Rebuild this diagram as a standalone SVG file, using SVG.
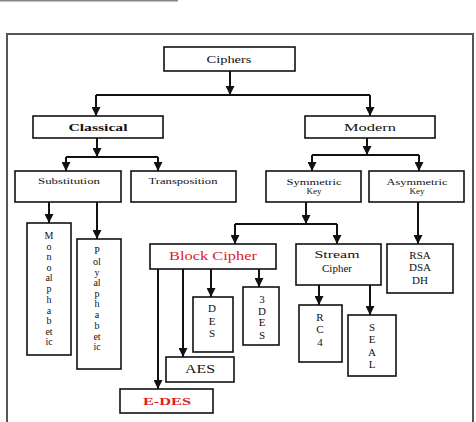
<svg xmlns="http://www.w3.org/2000/svg" width="476" height="422" viewBox="0 0 476 422" font-family="'Liberation Serif', 'Times New Roman', serif">
<style>
.b{fill:#fff;stroke:#111;stroke-width:1.6}
.c{fill:none;stroke:#111;stroke-width:2}
text{font-family:'Liberation Serif','Times New Roman',serif;fill:#111;text-anchor:middle}
.s9{font-size:9px}
.s11{font-size:11px}
.s12{font-size:12px}
.v{font-size:10px}
.red{fill:#e02020}
.bold{font-weight:bold}
</style>
<defs>
<marker id="ah" viewBox="0 0 10 10" refX="10" refY="5" markerWidth="9" markerHeight="9" orient="auto" markerUnits="userSpaceOnUse">
<path d="M0,0 L10,5 L0,10 z" fill="#111"/>
</marker>
</defs>
<rect x="0" y="0" width="178" height="1.5" fill="#888"/>
<rect x="7" y="34" width="466" height="400" fill="#fff" stroke="#555" stroke-width="2"/>
<g id="connectors">
<path class="c" d="M230,71 V95" marker-end="url(#ah)"/>
<path class="c" d="M96,95 H370"/>
<path class="c" d="M96,95 V116" marker-end="url(#ah)"/>
<path class="c" d="M370,95 V116" marker-end="url(#ah)"/>
<path class="c" d="M97,138 V157" marker-end="url(#ah)"/>
<path class="c" d="M66,157 H158"/>
<path class="c" d="M66,157 V171" marker-end="url(#ah)"/>
<path class="c" d="M158,157 V171" marker-end="url(#ah)"/>
<path class="c" d="M367,138 V155" marker-end="url(#ah)"/>
<path class="c" d="M312,155 H419"/>
<path class="c" d="M312,155 V171" marker-end="url(#ah)"/>
<path class="c" d="M419,155 V171" marker-end="url(#ah)"/>
<path class="c" d="M49,202 V223" marker-end="url(#ah)"/>
<path class="c" d="M97,202 V239" marker-end="url(#ah)"/>
<path class="c" d="M306,202 V224" marker-end="url(#ah)"/>
<path class="c" d="M235,224 H337"/>
<path class="c" d="M235,224 V244" marker-end="url(#ah)"/>
<path class="c" d="M337,224 V244" marker-end="url(#ah)"/>
<path class="c" d="M418,202 V244" marker-end="url(#ah)"/>
<path class="c" d="M158,269 V389" marker-end="url(#ah)"/>
<path class="c" d="M183,269 V357" marker-end="url(#ah)"/>
<path class="c" d="M211,269 V297" marker-end="url(#ah)"/>
<path class="c" d="M259,269 V287" marker-end="url(#ah)"/>
<path class="c" d="M319,285 V305" marker-end="url(#ah)"/>
<path class="c" d="M370,285 V315" marker-end="url(#ah)"/>
</g>
<g id="ciphers"><rect class="b" x="164" y="47" width="131" height="24"/><text class="s11" x="229" y="63" textLength="45" lengthAdjust="spacingAndGlyphs">Ciphers</text></g>
<g id="classical"><rect class="b" x="33" y="116" width="130" height="22"/><text class="s11 bold" x="98" y="131" textLength="59" lengthAdjust="spacingAndGlyphs">Classical</text></g>
<g id="modern"><rect class="b" x="305" y="116" width="130" height="22"/><text class="s11" x="370" y="131" textLength="52" lengthAdjust="spacingAndGlyphs">Modern</text></g>
<g id="substitution"><rect class="b" x="15" y="171" width="106" height="31"/><text class="s9" x="69" y="184" textLength="62" lengthAdjust="spacingAndGlyphs">Substitution</text></g>
<g id="transposition"><rect class="b" x="131" y="171" width="105" height="31"/><text class="s9" x="183" y="184" textLength="69" lengthAdjust="spacingAndGlyphs">Transposition</text></g>
<g id="symmetric"><rect class="b" x="266" y="171" width="95" height="31"/><text class="s9" x="314" y="185" textLength="55" lengthAdjust="spacingAndGlyphs">Symmetric</text><text class="s9" x="314" y="194">Key</text></g>
<g id="asymmetric"><rect class="b" x="369" y="171" width="95" height="31"/><text class="s9" x="417" y="185" textLength="61" lengthAdjust="spacingAndGlyphs">Asymmetric</text><text class="s9" x="417" y="194">Key</text></g>
<g id="mono"><rect class="b" x="27" y="223" width="44" height="132"/>
<text class="v"><tspan x="49" y="239">M</tspan><tspan x="49" y="250">o</tspan><tspan x="49" y="260">n</tspan><tspan x="49" y="271">o</tspan><tspan x="49" y="281">al</tspan><tspan x="49" y="292">p</tspan><tspan x="49" y="303">h</tspan><tspan x="49" y="314">a</tspan><tspan x="49" y="324">b</tspan><tspan x="49" y="335">et</tspan><tspan x="49" y="345">ic</tspan></text></g>
<g id="poly"><rect class="b" x="77" y="239" width="44" height="130"/>
<text class="v"><tspan x="97" y="254">P</tspan><tspan x="97" y="265">ol</tspan><tspan x="97" y="276">y</tspan><tspan x="97" y="286">al</tspan><tspan x="97" y="297">p</tspan><tspan x="97" y="307">h</tspan><tspan x="97" y="318">a</tspan><tspan x="97" y="329">b</tspan><tspan x="97" y="340">et</tspan><tspan x="97" y="350">ic</tspan></text></g>
<g id="block"><rect class="b" x="150" y="244" width="126" height="25"/><text class="s12 red" x="213" y="260" textLength="88" lengthAdjust="spacingAndGlyphs">Block Cipher</text></g>
<g id="stream"><rect class="b" x="296" y="244" width="85" height="41"/><text class="s11" x="337" y="258" textLength="45" lengthAdjust="spacingAndGlyphs">Stream</text><text class="s11" x="337" y="272">Cipher</text></g>
<g id="rsa"><rect class="b" x="387" y="244" width="66" height="49"/><text class="s11"><tspan x="420" y="259">RSA</tspan><tspan x="420" y="271">DSA</tspan><tspan x="420" y="284">DH</tspan></text></g>
<g id="des"><rect class="b" x="193" y="297" width="40" height="55"/><text class="s11"><tspan x="212" y="312">D</tspan><tspan x="212" y="325">E</tspan><tspan x="212" y="337">S</tspan></text></g>
<g id="des3"><rect class="b" x="243" y="287" width="36" height="58"/><text class="s11"><tspan x="262" y="303">3</tspan><tspan x="262" y="315">D</tspan><tspan x="262" y="326">E</tspan><tspan x="262" y="339">S</tspan></text></g>
<g id="aes"><rect class="b" x="166" y="357" width="68" height="25"/><text class="s12" x="200" y="373" textLength="30" lengthAdjust="spacingAndGlyphs">AES</text></g>
<g id="edes"><rect class="b" x="120" y="389" width="93" height="24"/><text class="s11 red bold" x="167" y="405" textLength="48" lengthAdjust="spacingAndGlyphs">E-DES</text></g>
<g id="rc4"><rect class="b" x="299" y="305" width="43" height="57"/><text class="s11"><tspan x="320" y="321">R</tspan><tspan x="320" y="333">C</tspan><tspan x="320" y="346">4</tspan></text></g>
<g id="seal"><rect class="b" x="348" y="315" width="48" height="61"/><text class="s11"><tspan x="372" y="331">S</tspan><tspan x="372" y="343">E</tspan><tspan x="372" y="356">A</tspan><tspan x="372" y="368">L</tspan></text></g>
</svg>
